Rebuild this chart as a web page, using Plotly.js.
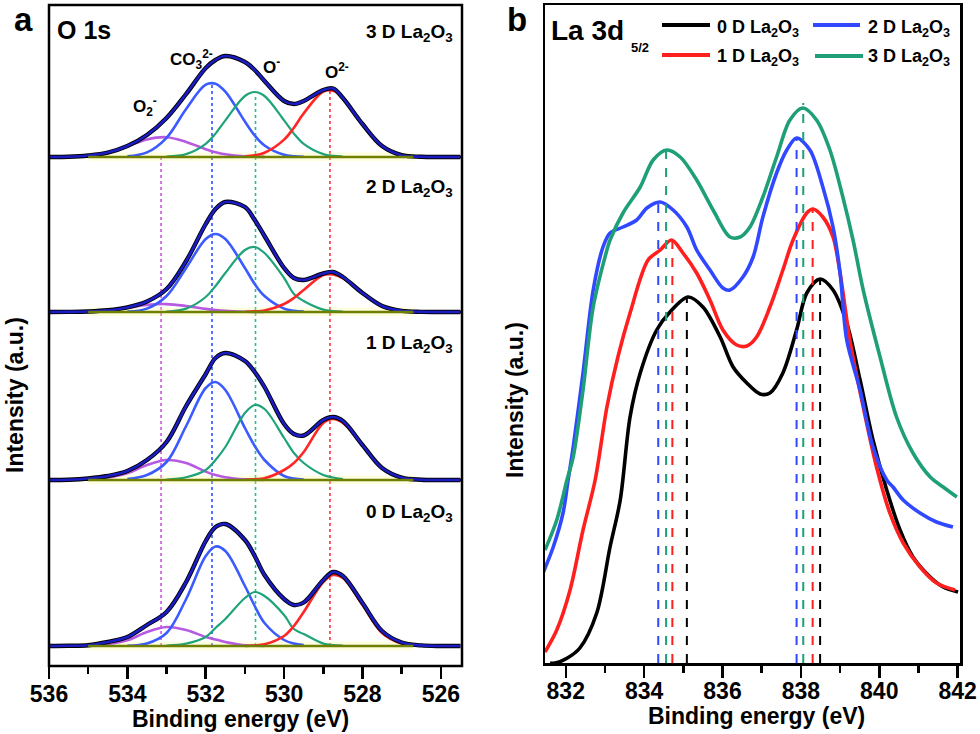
<!DOCTYPE html>
<html>
<head>
<meta charset="utf-8">
<script src="https://cdn.plot.ly/plotly-3.0.1.min.js"></script>
<style>html,body{margin:0;padding:0;background:#fff;}#chart{width:980px;height:734px;}</style>
</head>
<body>
<div id="chart"></div>
<script>
const _ = null;
// ---------- Panel a : O 1s ----------
const energyO = [536, 535.5, 535, 534.5, 534, 533.5, 533, 532.5, 532, 531.75, 531.5, 531, 530.75, 530.5, 530, 529.75, 529.5, 529, 528.75, 528.5, 528, 527.5, 527, 526.5, 526, 525.5];
const oliveSpan = [535, 526.7];
const oliveZero = [0, 0];

// 3 D La2O3
const env_3D = [0, 0.2, 1.5, 4.4, 11, 22, 39, 63, 89, 97, 101, 95, 87, 76, 56, 53, 56, 67, 68.5, 59, 33, 11, 1.8, 0.2, 0, 0];
const co3_3D = [_,_,_,_, 0.7, 4.6, 19.2, 48.1, 72.3, 73.3, 65.3, 35.4, 21.5, 11.5, 2.2, 0.8, 0.3, _,_,_,_,_,_,_,_,_];
const om_3D  = [_,_,_,_,_,_, 0.4, 2.9, 13.2, 23.4, 36.6, 61, 65, 61, 36.6, 23.4, 13.2, 2.9, 1.1, 0.4, _,_,_,_,_,_];
const o2m_3D = [_,_,_,_,_,_,_,_,_,_,_, 0.6, 1.7, 4.2, 17.4, 29.3, 43.6, 65.5, 66.3, 59.1, 32, 10.5, 2.0, 0.2, _,_];
const sup_3D = [_, 0.2, 1.2, 4.3, 10.6, 17.6, 19.8, 15.1, 7.8, 4.8, 2.7, 0.6, 0.3, 0.1, _,_,_,_,_,_,_,_,_,_,_,_];
// 2 D La2O3
const env_2D = [0, 0.1, 0.5, 1.7, 4.6, 10.5, 23, 51, 88, 103, 110, 105, 92, 76, 44, 34, 32, 38.5, 40, 35, 19, 6, 1.1, 0.1, 0, 0];
const co3_2D = [_,_,_,_, 0.4, 3.4, 16, 44, 73, 78, 73, 44, 28, 16, 3.4, 1.2, 0.4, _,_,_,_,_,_,_,_,_];
const om_2D  = [_,_,_,_,_,_, 0.5, 3.4, 15, 26, 39, 62, 65, 59, 34, 18, 11, 2.4, 0.9, 0.3, _,_,_,_,_,_];
const o2m_2D = [_,_,_,_,_,_,_,_,_,_,_, 0.2, 0.6, 1.5, 8, 14, 22, 37, 37.6, 34, 19, 6, 1, 0.1, _,_];
const sup_2D = [_, 0.1, 0.5, 1.7, 4.2, 7.1, 7.9, 6.0, 3.1, 1.9, 1.1, 0.3, 0.1, 0, _,_,_,_,_,_,_,_,_,_,_,_];
// 1 D La2O3
const env_1D = [0, 0.3, 1.5, 4, 9, 20, 38, 74, 106, 122, 127, 119, 108, 93, 56, 46, 44.5, 60, 63, 59, 35, 12, 2.4, 0.3, 0, 0];
const co3_1D = [_,_,_,_, 1, 5, 18, 54, 92, 98, 90, 52, 34, 20, 4, 1.5, 0.5, _,_,_,_,_,_,_,_,_];
const om_1D  = [_,_,_,_,_,_, 0.5, 2.7, 10, 20, 33, 67, 75, 71, 42, 27, 17, 5, 2.5, 1, _,_,_,_,_,_];
const o2m_1D = [_,_,_,_,_,_,_,_,_,_,_, 0.3, 0.8, 1.7, 10, 17, 28, 57, 61, 57, 35, 12, 2.4, 0.3, _,_];
const sup_1D = [_, 0.1, 0.8, 2.5, 6.8, 15, 20, 17, 8.4, 5, 2.7, 0.6, 0.3, 0.1, _,_,_,_,_,_,_,_,_,_,_,_];
// 0 D La2O3
const env_0D = [0, 0.2, 0.8, 4, 9, 21, 34, 64, 105, 119, 122, 106, 90, 71, 47, 41, 43.5, 66, 74, 70, 43, 15, 3.5, 0.6, 0, 0];
const co3_0D = [_,_,_,_, 0.3, 2.5, 13, 47, 90, 99.5, 95, 60, 40, 23, 6, 2.5, 1, _,_,_,_,_,_,_,_,_];
const om_0D  = [_,_,_,_,_,_, 0.5, 2.4, 9, 18, 27, 48, 54, 50, 31, 17, 12, 2.4, 1, 0.3, _,_,_,_,_,_];
const o2m_0D = [_,_,_,_,_,_,_,_,_,_,_, 0.1, 0.5, 1.7, 10, 20, 34, 64, 71, 68, 41, 13, 2.4, 0.2, _,_];
const sup_0D = [_, 0.1, 0.6, 2, 5.7, 14, 19, 16, 9, 6.5, 4, 0.7, 0.3, 0.1, _,_,_,_,_,_,_,_,_,_,_,_];

const sampleLabels = ['3 D La<sub>2</sub>O<sub>3</sub>', '2 D La<sub>2</sub>O<sub>3</sub>', '1 D La<sub>2</sub>O<sub>3</sub>', '0 D La<sub>2</sub>O<sub>3</sub>'];
const o1sPeakEnergy = [533.14, 531.84, 530.73, 528.83];
const o1sPeakNames = ['O<sub>2</sub><sup>-</sup>', 'CO<sub>3</sub><sup>2-</sup>', 'O<sup>-</sup>', 'O<sup>2-</sup>'];

// ---------- Panel b : La 3d5/2 ----------
const la_x_0D = [831.6, 831.73, 832.03, 832.36, 832.79, 833.13, 833.39, 833.64, 833.90, 834.32, 834.66, 835.12, 835.50, 835.94, 836.27, 836.62, 836.96, 837.21, 837.54, 837.89, 838.15, 838.49, 838.82, 839.17, 839.51, 839.84, 840.19, 840.53, 840.86, 841.30, 841.63, 842.01];
const la_y_0D = [0, 0, 4.7, 15, 50, 116, 163, 246, 290, 333, 351, 366, 356, 326, 296, 280, 269, 270, 290, 333, 370, 384, 373, 340, 283, 223, 173, 133, 106, 86, 76, 71];
const la_x_1D = [831.47, 831.77, 832.11, 832.44, 832.75, 833.05, 833.33, 833.64, 834.10, 834.41, 834.70, 834.99, 835.34, 835.68, 836.01, 836.36, 836.62, 836.87, 837.21, 837.54, 837.80, 838.15, 838.31, 838.56, 838.82, 839.00, 839.25, 839.59, 839.93, 840.27, 840.61, 841.04, 841.46, 841.93];
const la_y_1D = [11, 33, 73, 133, 183, 256, 306, 350, 403, 413, 423, 410, 390, 363, 333, 318, 317, 326, 356, 393, 423, 450, 454, 446, 426, 390, 323, 256, 196, 150, 120, 96, 80, 73];
const la_x_2D = [831.42, 831.68, 831.93, 832.06, 832.19, 832.44, 832.70, 832.95, 833.13, 833.46, 833.81, 834.07, 834.41, 834.74, 835.09, 835.34, 835.68, 836.01, 836.19, 836.52, 836.78, 837.03, 837.38, 837.64, 837.89, 838.23, 838.56, 838.82, 839.00, 839.17, 839.51, 839.84, 840.19, 840.35, 840.61, 841.04, 841.46, 841.88];
const la_y_2D = [90, 116, 150, 183, 216, 290, 373, 416, 430, 436, 443, 455, 461, 453, 436, 413, 393, 375, 373, 386, 406, 446, 490, 513, 525, 513, 476, 436, 390, 323, 273, 216, 183, 176, 163, 150, 141, 136];
const la_x_3D = [831.47, 831.77, 832.03, 832.19, 832.44, 832.70, 833.05, 833.13, 833.46, 833.90, 834.23, 834.58, 834.92, 835.34, 835.76, 836.19, 836.45, 836.70, 837.03, 837.38, 837.72, 838.05, 838.40, 838.74, 839.07, 839.33, 839.59, 840.02, 840.44, 840.86, 841.30, 841.63, 841.98];
const la_y_3D = [113, 143, 183, 206, 273, 356, 413, 423, 450, 476, 503, 513, 506, 483, 453, 426, 426, 436, 466, 506, 543, 555, 543, 513, 466, 423, 373, 306, 246, 210, 186, 176, 166];
const la_peak_x_0D = [835.09, 838.49], la_peak_y_0D = [366, 384];
const la_peak_x_1D = [834.72, 838.30], la_peak_y_1D = [423, 454];
const la_peak_x_2D = [834.36, 837.89], la_peak_y_2D = [461, 525];
const la_peak_x_3D = [834.56, 838.06], la_peak_y_3D = [513, 560];
const laNames = ['0 D La<sub>2</sub>O<sub>3</sub>', '1 D La<sub>2</sub>O<sub>3</sub>', '2 D La<sub>2</sub>O<sub>3</sub>', '3 D La<sub>2</sub>O<sub>3</sub>'];

// ---------- helpers (layout only) ----------
const W = 980, H = 734;
const PX = x => x / W, PY = y => 1 - y / H;
const FONT = 'Liberation Sans, Arial, Helvetica, sans-serif';
const C = {env:'#1c1cc4', co3:'#3b5bff', om:'#1fa37a', o2m:'#ff2626', sup:'#b65ae2', olive:'#6f8000',
           k:'#000000', r:'#ff1f1f', b:'#3048ff', g:'#1f9f78'};

const traces = [];
function line(x, y, color, width, xa, ya, shape) {
  traces.push({type:'scatter', mode:'lines', x:x, y:y, xaxis:xa, yaxis:ya, showlegend:false, hoverinfo:'skip',
    line:{color:color, width:width, shape:shape || 'spline', smoothing:1}, connectgaps:false});
}
const sets = [
  ['y',  env_3D, co3_3D, om_3D, o2m_3D, sup_3D],
  ['y2', env_2D, co3_2D, om_2D, o2m_2D, sup_2D],
  ['y3', env_1D, co3_1D, om_1D, o2m_1D, sup_1D],
  ['y4', env_0D, co3_0D, om_0D, o2m_0D, sup_0D]
];
sets.forEach(s => {
  const ya = s[0];
  line(oliveSpan, oliveZero, 'rgba(255,255,140,0.28)', 9, 'x', ya, 'linear');
  line(energyO, s[5], C.sup, 2.6, 'x', ya);
  line(energyO, s[2], C.co3, 2.6, 'x', ya);
  line(energyO, s[3], C.om, 2.2, 'x', ya);
  line(energyO, s[4], C.o2m, 2.6, 'x', ya);
  line(energyO, s[1], C.k, 4.4, 'x', ya);
  line(energyO, s[1], C.env, 2.6, 'x', ya);
  line(oliveSpan, oliveZero, C.olive, 2.6, 'x', ya, 'linear');
});

// panel b
[[la_x_0D, la_y_0D, C.k], [la_x_1D, la_y_1D, C.r], [la_x_2D, la_y_2D, C.b], [la_x_3D, la_y_3D, C.g]].forEach(d => {
  traces.push({type:'scatter', mode:'lines', x:d[0], y:d[1], xaxis:'x2', yaxis:'y5', showlegend:false, hoverinfo:'skip',
    line:{color:d[2], width:3.6, shape:'spline', smoothing:0.9}});
});
[[la_peak_x_0D, la_peak_y_0D, C.k], [la_peak_x_1D, la_peak_y_1D, C.r], [la_peak_x_2D, la_peak_y_2D, C.b], [la_peak_x_3D, la_peak_y_3D, C.g]].forEach(d => {
  traces.push({type:'scatter', mode:'lines', x:[d[0][0], d[0][0], null, d[0][1], d[0][1]], y:[0, d[1][0], null, 0, d[1][1]],
    xaxis:'x2', yaxis:'y5', showlegend:false, hoverinfo:'skip', line:{color:d[2], width:2, dash:'dash'}});
});

// ---------- shapes ----------
const shapes = [];
[157, 312, 480].forEach(yp => shapes.push({type:'line', xref:'paper', yref:'paper', x0:PX(49), x1:PX(462), y0:PY(yp), y1:PY(yp), line:{color:'#000', width:2}, layer:'below'}));
shapes.push({type:'rect', xref:'paper', yref:'paper', x0:PX(49), x1:PX(462), y0:PY(666), y1:PY(5), line:{color:'#000', width:2.5}, layer:'above'});
const dotColors = ['#d050e0', '#3050ff', '#20c090', '#ff3040'];
const dotTops = [157, 84, 95, 91];
o1sPeakEnergy.forEach((e, i) => shapes.push({type:'line', xref:'x', yref:'paper', x0:e, x1:e, y0:PY(646), y1:PY(dotTops[i]),
  line:{color:dotColors[i], width:1.6, dash:'dot'}, layer:'below'}));
const legLines = [[662, 710, 25, C.k], [813, 860, 25, C.b], [662, 710, 55, C.r], [815, 863, 56, C.g]];
legLines.forEach(l => shapes.push({type:'line', xref:'paper', yref:'paper', x0:PX(l[0]), x1:PX(l[1]), y0:PY(l[2]), y1:PY(l[2]), line:{color:l[3], width:4}}));

// ---------- annotations ----------
const ann = [];
function txt(text, x, y, size, xanchor, opts) {
  ann.push(Object.assign({text:'<b>' + text + '</b>', xref:'paper', yref:'paper', x:PX(x), y:PY(y), showarrow:false,
    xanchor:xanchor || 'center', yanchor:'middle', font:{family:FONT, size:size, color:'#000'}}, opts || {}));
}
txt('a', 23, 20, 33);
txt('b', 517, 20, 33);
txt('O 1s', 55, 30, 25, 'left');
const sampleY = [33, 188, 344, 513];
sampleLabels.forEach((t, i) => txt(t, 455, sampleY[i], 19, 'right'));
const peakLabelPos = [[131, 106], [168, 60], [261, 66], [323, 71]];
o1sPeakNames.forEach((t, i) => txt(t, peakLabelPos[i][0], peakLabelPos[i][1], 17, 'left'));
txt('Intensity (a.u.)', 15, 395, 23, 'center', {textangle:-90});
txt('Intensity (a.u.)', 515, 400, 23, 'center', {textangle:-90});
txt('Binding energy (eV)', 240, 719, 23);
txt('Binding energy (eV)', 756, 716, 23);
txt('La 3d', 549, 30, 28, 'left');
txt('5/2', 629, 47, 13, 'left');
const legTextPos = [[715, 28], [715, 58], [866, 28], [866, 58]];
laNames.forEach((t, i) => txt(t, legTextPos[i][0], legTextPos[i][1], 18, 'left'));

// ---------- layout ----------
const tickFont = {family:FONT, size:23, color:'#000', weight:'bold'};
const hiddenY = (dom, rng) => ({domain:dom, range:rng, visible:false, fixedrange:true, anchor:'x', showgrid:false, zeroline:false});
const layout = {
  width:W, height:H, margin:{l:0, r:0, t:0, b:0}, paper_bgcolor:'#fff', plot_bgcolor:'rgba(0,0,0,0)', showlegend:false,
  xaxis:{domain:[PX(49), PX(462)], range:[536, 525.46], anchor:'y4', showgrid:false, zeroline:false, showline:false,
    tick0:536, dtick:2, ticks:'outside', ticklen:12, tickwidth:2.5, tickcolor:'#000', tickfont:tickFont, ticklabelstandoff:-5,
    minor:{dtick:1, ticks:'outside', ticklen:7, tickwidth:2.5, tickcolor:'#000', showgrid:false}},
  yaxis:hiddenY([PY(161), PY(5)], [-4, 152]),
  yaxis2:hiddenY([PY(316), PY(157)], [-4, 155]),
  yaxis3:hiddenY([PY(484), PY(312)], [-4, 168]),
  yaxis4:hiddenY([PY(666), PY(480)], [-20, 166]),
  xaxis2:{domain:[PX(545), PX(960)], range:[831.47, 842.06], anchor:'y5', showgrid:false, zeroline:false,
    showline:true, mirror:true, linewidth:2.5, linecolor:'#000',
    tick0:832, dtick:2, ticks:'outside', ticklen:12, tickwidth:2.5, tickcolor:'#000', tickfont:tickFont, ticklabelstandoff:-6,
    minor:{dtick:1, ticks:'outside', ticklen:7, tickwidth:2.5, tickcolor:'#000', showgrid:false}},
  yaxis5:{domain:[PY(663), PY(5)], range:[0, 658], anchor:'x2', showgrid:false, zeroline:false, showline:true, mirror:true,
    linewidth:2.5, linecolor:'#000', ticks:'', showticklabels:false},
  shapes:shapes, annotations:ann
};
Plotly.newPlot('chart', traces, layout, {displayModeBar:false, staticPlot:true});
</script>
</body>
</html>
